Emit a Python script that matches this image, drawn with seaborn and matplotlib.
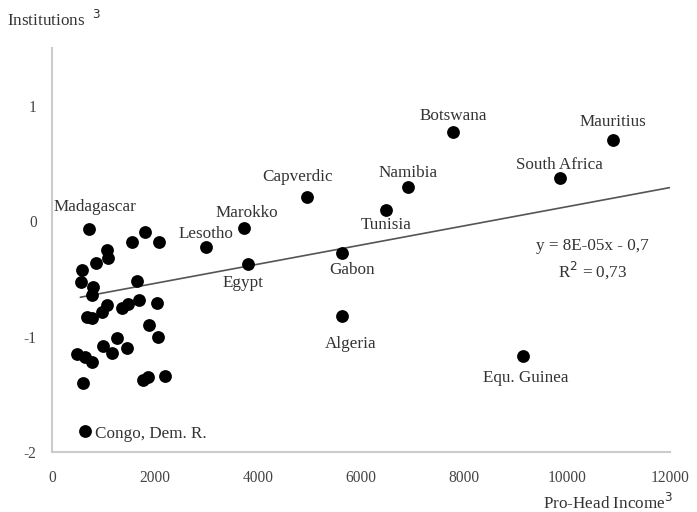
import numpy as np
import pandas as pd
import matplotlib
matplotlib.use("Agg")
import matplotlib.pyplot as plt
import seaborn as sns

sns.set_theme(style="white")
plt.rcParams['font.family'] = ['Liberation Serif', 'DejaVu Serif']
plt.rcParams['axes.unicode_minus'] = False

# Labeled countries
labels = ["Botswana", "Mauritius", "South Africa", "Namibia", "Tunisia", "Capverdic",
          "Gabon", "Algeria", "Equ. Guinea", "Marokko", "Lesotho", "Madagascar",
          "Egypt", "Congo, Dem. R."]
label_income = [7790, 10890, 9860, 6910, 6490, 4950, 5630, 5630, 9150, 3730, 2990, 720, 3810, 640]
label_inst = [0.77, 0.70, 0.37, 0.30, 0.10, 0.21, -0.28, -0.82, -1.17, -0.06, -0.22, -0.07, -0.37, -1.82]
# label offsets (points) and alignment
label_dx = [0, 0, 0, 0, 0, -7, 7, 6, 2, 2, 0, 4, -4, 7]
label_dy = [12, 13, 10, 10, -11, 14, -12, -20, -16, 11, 9, 16, -14, -2]
label_ha = ["center"] * 13 + ["left"]

# Unlabeled countries
other_income = [1553, 1806, 2078, 1068, 1087, 854, 583, 563, 796, 777, 1650, 1068, 971,
                680, 777, 1359, 1476, 1689, 2039, 1883, 2058, 1262, 990, 1165, 1456,
                485, 641, 777, 602, 1767, 1864, 2194]
other_inst = [-0.18, -0.09, -0.18, -0.25, -0.32, -0.36, -0.42, -0.53, -0.57, -0.64, -0.52,
              -0.73, -0.79, -0.83, -0.84, -0.75, -0.72, -0.68, -0.71, -0.90, -1.00, -1.01,
              -1.08, -1.14, -1.10, -1.15, -1.18, -1.22, -1.40, -1.38, -1.35, -1.34]

# Trend line
trend_slope = 8.3e-05
trend_intercept = -0.705
trend_x = [550, 12100]

x_ticks = [0, 2000, 4000, 6000, 8000, 10000, 12000]
y_ticks = [-2, -1, 0, 1]

df = pd.DataFrame({
    "income": label_income + other_income,
    "inst": label_inst + other_inst,
})

fig = plt.figure(figsize=(6.97, 5.12), dpi=100)
ax = fig.add_axes([52/697, 60/512, (670-52)/697, (452-48)/512])

txt_color = "#333333"
fs = 12.3

tx = np.array(trend_x, dtype=float)
ax.plot(tx, trend_slope * tx + trend_intercept, color="#555555", lw=1.2, zorder=2)

sns.scatterplot(data=df, x="income", y="inst", color="black", s=85,
                edgecolor="black", linewidth=0, ax=ax, zorder=3)

for name, xv, yv, dx, dy, ha in zip(labels, label_income, label_inst, label_dx, label_dy, label_ha):
    ax.annotate(name, (xv, yv), xytext=(dx, dy), textcoords="offset points",
                ha=ha, va="center", fontsize=fs, color=txt_color, zorder=4)

ax.text(0.875, 0.51, "y = 8E-05x - 0,7", transform=ax.transAxes, ha="center",
        va="center", fontsize=fs, color=txt_color)
ax.text(0.875, 0.45, "R$^2$ = 0,73", transform=ax.transAxes, ha="center",
        va="center", fontsize=fs, color=txt_color)

ax.set_xlim(0, 12000)
ax.set_ylim(-2, 1.5)
ax.set_xticks(x_ticks)
ax.set_yticks(y_ticks)
ax.set_xlabel("")
ax.set_ylabel("")
ax.tick_params(axis="both", labelsize=11.2, labelcolor="#444444", colors="#bbbbbb",
               length=3, width=1, direction="out")
ax.tick_params(axis="x", length=0, pad=13)
ax.tick_params(axis="y", pad=8)
for lab in ax.get_xticklabels() + ax.get_yticklabels():
    lab.set_color("#444444")

for s in ["top", "right"]:
    ax.spines[s].set_visible(False)
for s in ["left", "bottom"]:
    ax.spines[s].set_color("#cccccc")
    ax.spines[s].set_linewidth(1.5)

fig.text(7/697, 1 - 20/512, "Institutions  $^{3}$", ha="left", va="center",
         fontsize=fs, color=txt_color)
fig.text(673/697, 1 - 503/512, "Pro-Head Income$^{3}$", ha="right", va="center",
         fontsize=fs, color=txt_color)

fig.savefig("out.png", dpi=100)
